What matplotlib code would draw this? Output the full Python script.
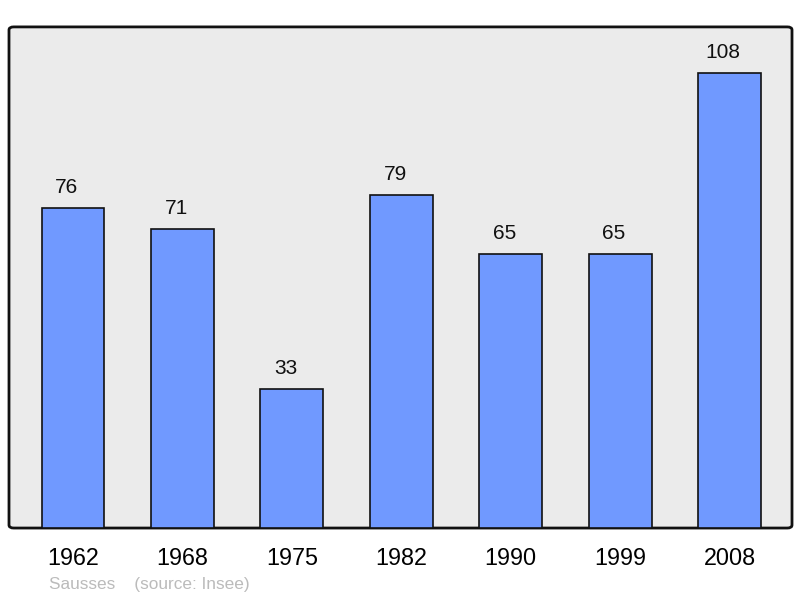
import matplotlib.pyplot as plt
from matplotlib.patches import FancyBboxPatch

years = ['1962', '1968', '1975', '1982', '1990', '1999', '2008']
population = [76, 71, 33, 79, 65, 65, 108]

plt.rcParams['font.family'] = ['Liberation Sans', 'DejaVu Sans']

fig = plt.figure(figsize=(8, 5.98), dpi=100)
ax = fig.add_axes([0.01125, 0.117, 0.97875, 0.838])
ax.set_facecolor('none')
for s in ax.spines.values():
    s.set_visible(False)

# rounded frame behind the bars
frame = FancyBboxPatch((0, 0), 1, 1, boxstyle='round,pad=0,rounding_size=0.006',
                       transform=ax.transAxes, facecolor='#ebebeb',
                       edgecolor='#111111', linewidth=2, zorder=0, clip_on=False)
ax.add_patch(frame)

x = range(len(years))
ax.bar(x, population, width=0.575, color='#7099ff', edgecolor='#111111',
       linewidth=1.2, zorder=2)
for i, v in enumerate(population):
    ax.annotate(str(v), (i, v), xytext=(-4.5, 8), textcoords='offset points',
                ha='center', va='bottom', fontsize=15, color='#111111')

ax.set_xlim(-0.585, 6.57)
ax.set_ylim(0, 119)
ax.set_xticks(list(x))
ax.set_xticklabels(years, fontsize=16.8)
ax.tick_params(axis='x', length=0, pad=14)
ax.set_yticks([])

fig.text(49 / 800, 1 - 584 / 598, 'Sausses    (source: Insee)', fontsize=12.4,
         color='#bbbbbb', va='center', ha='left')

fig.savefig('out.png', dpi=100)
